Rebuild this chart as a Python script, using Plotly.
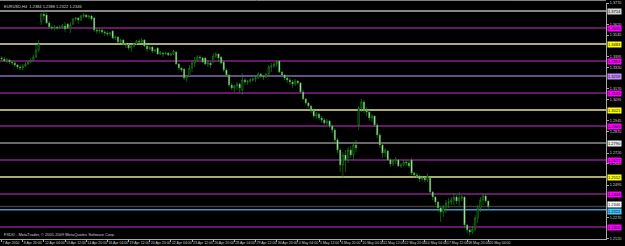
import plotly.graph_objects as go

# ---------------- data (EURUSD, H4) ----------------
opens = [
    1.3385, 1.3378, 1.3364, 1.3371, 1.3357, 1.3350, 1.3336, 1.3322, 1.3315, 1.3329,
    1.3343, 1.3357, 1.3371, 1.3392, 1.3441, 1.3637, 1.3693, 1.3686, 1.3630, 1.3602,
    1.3595, 1.3602, 1.3595, 1.3602, 1.3609, 1.3623, 1.3588, 1.3623, 1.3658, 1.3665,
    1.3651, 1.3679, 1.3686, 1.3672, 1.3679, 1.3665, 1.3581, 1.3574, 1.3581, 1.3567,
    1.3560, 1.3553, 1.3574, 1.3525, 1.3532, 1.3497, 1.3511, 1.3483, 1.3476, 1.3455,
    1.3469, 1.3483, 1.3504, 1.3497, 1.3511, 1.3469, 1.3448, 1.3462, 1.3434, 1.3455,
    1.3413, 1.3420, 1.3413, 1.3420, 1.3406, 1.3413, 1.3427, 1.3343, 1.3315, 1.3308,
    1.3245, 1.3259, 1.3315, 1.3350, 1.3371, 1.3392, 1.3385, 1.3385, 1.3343, 1.3350,
    1.3357, 1.3399, 1.3413, 1.3392, 1.3357, 1.3301, 1.3266, 1.3196, 1.3175, 1.3189,
    1.3203, 1.3161, 1.3231, 1.3217, 1.3224, 1.3231, 1.3238, 1.3245, 1.3273, 1.3259,
    1.3252, 1.3273, 1.3322, 1.3329, 1.3343, 1.3364, 1.3287, 1.3266, 1.3245, 1.3231,
    1.3217, 1.3203, 1.3224, 1.3210, 1.3147, 1.3098, 1.3070, 1.3049, 1.3014, 1.2979,
    1.2993, 1.2965, 1.2951, 1.2930, 1.2944, 1.2909, 1.2881, 1.2811, 1.2741, 1.2636,
    1.2706, 1.2671, 1.2741, 1.2706, 1.2776, 1.2916, 1.3035, 1.3077, 1.3021, 1.3007,
    1.2965, 1.2979, 1.2916, 1.2846, 1.2776, 1.2720, 1.2734, 1.2671, 1.2643, 1.2664,
    1.2671, 1.2629, 1.2636, 1.2657, 1.2650, 1.2671, 1.2580, 1.2566, 1.2559, 1.2538,
    1.2545, 1.2531, 1.2545, 1.2447, 1.2412, 1.2377, 1.2335, 1.2307, 1.2342, 1.2370,
    1.2377, 1.2391, 1.2412, 1.2384, 1.2405, 1.2412, 1.2216, 1.2181, 1.2167, 1.2188,
    1.2265, 1.2335, 1.2391, 1.2419, 1.2384,
]
highs = [
    1.3399, 1.3392, 1.3385, 1.3378, 1.3371, 1.3364, 1.3343, 1.3336, 1.3343, 1.3357,
    1.3371, 1.3385, 1.3406, 1.3476, 1.3511, 1.3700, 1.3707, 1.3700, 1.3644, 1.3616,
    1.3616, 1.3609, 1.3616, 1.3623, 1.3637, 1.3630, 1.3637, 1.3665, 1.3672, 1.3672,
    1.3686, 1.3700, 1.3693, 1.3686, 1.3686, 1.3672, 1.3595, 1.3588, 1.3588, 1.3581,
    1.3574, 1.3567, 1.3581, 1.3539, 1.3539, 1.3518, 1.3518, 1.3490, 1.3483, 1.3476,
    1.3490, 1.3511, 1.3518, 1.3525, 1.3518, 1.3476, 1.3469, 1.3469, 1.3448, 1.3462,
    1.3434, 1.3427, 1.3427, 1.3427, 1.3420, 1.3441, 1.3434, 1.3350, 1.3322, 1.3315,
    1.3266, 1.3336, 1.3371, 1.3392, 1.3406, 1.3406, 1.3392, 1.3392, 1.3371, 1.3357,
    1.3420, 1.3427, 1.3420, 1.3399, 1.3371, 1.3315, 1.3273, 1.3210, 1.3196, 1.3217,
    1.3210, 1.3280, 1.3245, 1.3231, 1.3245, 1.3245, 1.3252, 1.3287, 1.3280, 1.3266,
    1.3280, 1.3336, 1.3350, 1.3357, 1.3371, 1.3371, 1.3294, 1.3273, 1.3252, 1.3245,
    1.3231, 1.3238, 1.3231, 1.3217, 1.3161, 1.3105, 1.3077, 1.3056, 1.3021, 1.3007,
    1.3000, 1.2979, 1.2965, 1.2958, 1.2951, 1.2923, 1.2895, 1.2825, 1.2755, 1.2727,
    1.2741, 1.2762, 1.2769, 1.2797, 1.2811, 1.3049, 1.3098, 1.3091, 1.3042, 1.3021,
    1.2993, 1.2986, 1.2930, 1.2860, 1.2790, 1.2755, 1.2741, 1.2685, 1.2671, 1.2692,
    1.2678, 1.2650, 1.2671, 1.2671, 1.2664, 1.2685, 1.2587, 1.2580, 1.2566, 1.2559,
    1.2552, 1.2580, 1.2552, 1.2454, 1.2419, 1.2384, 1.2349, 1.2356, 1.2391, 1.2405,
    1.2412, 1.2440, 1.2426, 1.2447, 1.2426, 1.2419, 1.2223, 1.2195, 1.2209, 1.2286,
    1.2356, 1.2412, 1.2440, 1.2433, 1.2388,
]
lows = [
    1.3364, 1.3357, 1.3350, 1.3343, 1.3336, 1.3322, 1.3308, 1.3301, 1.3301, 1.3322,
    1.3336, 1.3350, 1.3364, 1.3385, 1.3427, 1.3616, 1.3651, 1.3623, 1.3595, 1.3581,
    1.3581, 1.3581, 1.3588, 1.3588, 1.3567, 1.3588, 1.3560, 1.3616, 1.3644, 1.3623,
    1.3644, 1.3665, 1.3665, 1.3658, 1.3644, 1.3567, 1.3553, 1.3560, 1.3553, 1.3539,
    1.3539, 1.3539, 1.3518, 1.3511, 1.3490, 1.3490, 1.3476, 1.3455, 1.3441, 1.3427,
    1.3462, 1.3476, 1.3483, 1.3490, 1.3462, 1.3427, 1.3441, 1.3420, 1.3427, 1.3406,
    1.3406, 1.3392, 1.3406, 1.3399, 1.3399, 1.3406, 1.3336, 1.3301, 1.3287, 1.3231,
    1.3217, 1.3252, 1.3287, 1.3322, 1.3357, 1.3371, 1.3350, 1.3336, 1.3322, 1.3315,
    1.3350, 1.3385, 1.3357, 1.3343, 1.3287, 1.3252, 1.3182, 1.3161, 1.3147, 1.3161,
    1.3140, 1.3126, 1.3196, 1.3196, 1.3210, 1.3217, 1.3217, 1.3238, 1.3245, 1.3231,
    1.3245, 1.3266, 1.3287, 1.3315, 1.3322, 1.3280, 1.3252, 1.3231, 1.3210, 1.3196,
    1.3175, 1.3189, 1.3196, 1.3140, 1.3091, 1.3056, 1.3035, 1.3000, 1.2965, 1.2958,
    1.2951, 1.2930, 1.2916, 1.2916, 1.2895, 1.2860, 1.2790, 1.2720, 1.2587, 1.2545,
    1.2587, 1.2650, 1.2685, 1.2671, 1.2727, 1.2881, 1.3007, 1.3000, 1.2979, 1.2944,
    1.2937, 1.2902, 1.2825, 1.2755, 1.2685, 1.2692, 1.2664, 1.2622, 1.2629, 1.2643,
    1.2622, 1.2615, 1.2629, 1.2629, 1.2615, 1.2566, 1.2552, 1.2545, 1.2517, 1.2524,
    1.2517, 1.2517, 1.2440, 1.2391, 1.2356, 1.2307, 1.2237, 1.2272, 1.2300, 1.2335,
    1.2356, 1.2356, 1.2363, 1.2356, 1.2384, 1.2195, 1.2160, 1.2143, 1.2153, 1.2174,
    1.2230, 1.2307, 1.2356, 1.2370, 1.2322,
]
closes = [
    1.3378, 1.3364, 1.3371, 1.3357, 1.3350, 1.3336, 1.3322, 1.3315, 1.3329, 1.3343,
    1.3357, 1.3371, 1.3392, 1.3441, 1.3483, 1.3693, 1.3679, 1.3630, 1.3602, 1.3595,
    1.3602, 1.3595, 1.3602, 1.3609, 1.3588, 1.3595, 1.3616, 1.3658, 1.3665, 1.3651,
    1.3679, 1.3686, 1.3672, 1.3679, 1.3658, 1.3581, 1.3574, 1.3581, 1.3567, 1.3560,
    1.3553, 1.3560, 1.3525, 1.3532, 1.3497, 1.3511, 1.3483, 1.3476, 1.3455, 1.3469,
    1.3483, 1.3504, 1.3497, 1.3511, 1.3469, 1.3448, 1.3462, 1.3434, 1.3441, 1.3413,
    1.3427, 1.3413, 1.3420, 1.3406, 1.3413, 1.3434, 1.3343, 1.3315, 1.3301, 1.3245,
    1.3259, 1.3315, 1.3350, 1.3371, 1.3392, 1.3385, 1.3357, 1.3343, 1.3350, 1.3336,
    1.3399, 1.3413, 1.3385, 1.3350, 1.3301, 1.3266, 1.3196, 1.3175, 1.3189, 1.3203,
    1.3175, 1.3231, 1.3217, 1.3224, 1.3231, 1.3238, 1.3245, 1.3273, 1.3259, 1.3252,
    1.3273, 1.3322, 1.3329, 1.3343, 1.3357, 1.3287, 1.3266, 1.3245, 1.3231, 1.3217,
    1.3203, 1.3224, 1.3210, 1.3147, 1.3098, 1.3070, 1.3049, 1.3014, 1.2979, 1.2993,
    1.2965, 1.2951, 1.2930, 1.2944, 1.2909, 1.2881, 1.2811, 1.2741, 1.2636, 1.2706,
    1.2671, 1.2741, 1.2706, 1.2776, 1.2755, 1.3035, 1.3077, 1.3021, 1.3007, 1.2965,
    1.2979, 1.2916, 1.2846, 1.2776, 1.2720, 1.2741, 1.2671, 1.2643, 1.2664, 1.2678,
    1.2629, 1.2636, 1.2657, 1.2650, 1.2629, 1.2580, 1.2566, 1.2559, 1.2538, 1.2545,
    1.2531, 1.2559, 1.2447, 1.2412, 1.2377, 1.2335, 1.2307, 1.2342, 1.2370, 1.2377,
    1.2391, 1.2412, 1.2384, 1.2405, 1.2412, 1.2216, 1.2181, 1.2167, 1.2188, 1.2265,
    1.2335, 1.2391, 1.2419, 1.2384, 1.2346,
]

time_labels = [
    "7 Apr 2010", "8 Apr 20:00", "12 Apr 04:00", "13 Apr 12:00", "14 Apr 20:00",
    "16 Apr 04:00", "19 Apr 12:00", "20 Apr 20:00", "22 Apr 04:00", "23 Apr 12:00",
    "26 Apr 20:00", "28 Apr 04:00", "29 Apr 12:00", "30 Apr 20:00", "4 May 04:00",
    "5 May 12:00", "6 May 20:00", "10 May 04:00", "11 May 12:00", "12 May 20:00",
    "14 May 04:00", "17 May 12:00", "18 May 20:00", "20 May 04:00",
]
time_label_bars = [0, 8, 16, 24, 32, 40, 48, 56, 64, 72, 80, 88, 96, 104, 112,
                   120, 128, 136, 144, 152, 160, 168, 176, 184]

# price-scale labels that are visible (the others sit under the level boxes)
price_ticks = [1.2120, 1.2270, 1.2495, 1.2645, 1.2720, 1.2870, 1.2945,
               1.3095, 1.3170, 1.3320, 1.3395, 1.3545, 1.3620, 1.3770]

level_prices = [1.3714, 1.3595, 1.3483, 1.3364, 1.3259, 1.3140, 1.3021, 1.2909,
                1.2790, 1.2671, 1.2552, 1.2433, 1.2346, 1.2322, 1.2202]
level_line_colors = ["#b4b4b4", "#86218a", "#e4e49a", "#86218a", "#8a6ab0",
                     "#86218a", "#e4e49a", "#86218a", "#8c8c8c", "#86218a",
                     "#e4e49a", "#86218a", "#3c3c3c", "#3a9ccc", "#86218a"]
level_label_colors = ["#d8d8d8", "#ff00ff", "#ffff00", "#ff00ff", "#c68cff",
                      "#ff00ff", "#ffff00", "#ff00ff", "#e8e8e8", "#ff00ff",
                      "#ffff00", "#ff00ff", "#ffffff", "#44c8ff", "#ff00ff"]
level_label_shift = [0, 0, 0, 0, 0, 0, 0, 0, 0, 0, 0, 0, 2, -2, 0]

chart_title = "EURUSD,H4  1.2384 1.2388 1.2322 1.2346"
footer_text = "FXDD - MetaTrader, \u00a9 2001-2009 MetaQuotes Software Corp."

# ---------------- figure ----------------
bars = list(range(len(opens)))
FONT = "Liberation Sans"
AXIS_COL = "#a8a8a8"
TEXT_COL = "#d0d0d0"
CANDLE_COL = "#1f961f"

fig = go.Figure()

for price, col in zip(level_prices, level_line_colors):
    fig.add_hline(y=price, line=dict(color=col, width=1.5), layer="below")

fig.add_trace(go.Candlestick(
    x=bars, open=opens, high=highs, low=lows, close=closes,
    increasing=dict(line=dict(color=CANDLE_COL, width=0.6), fillcolor="#000000"),
    decreasing=dict(line=dict(color=CANDLE_COL, width=0.6), fillcolor="#ffffff"),
    whiskerwidth=0, hoverinfo="skip", showlegend=False,
))

for price, col, sh in zip(level_prices, level_label_colors, level_label_shift):
    fig.add_annotation(
        x=1, xref="paper", y=price, yref="y", xanchor="left", yanchor="middle",
        xshift=1, yshift=sh, text=f"{price:.4f}", showarrow=False, bgcolor=col,
        borderpad=0, font=dict(family=FONT, size=4, color="#000000"),
    )

fig.add_annotation(x=0, xref="paper", y=1, yref="paper", xanchor="left",
                   yanchor="top", xshift=2, yshift=1, text=chart_title,
                   showarrow=False, font=dict(family=FONT, size=4, color=TEXT_COL))
fig.add_annotation(x=0, xref="paper", y=0, yref="paper", xanchor="left",
                   yanchor="bottom", xshift=2, yshift=0, text=footer_text,
                   showarrow=False, font=dict(family=FONT, size=4, color=TEXT_COL))

# top border
fig.add_shape(type="line", xref="paper", yref="paper", x0=0, x1=1,
              y0=1.011, y1=1.011, line=dict(color="#909090", width=1))

fig.update_layout(
    width=625, height=246,
    margin=dict(l=0, r=19, t=3, b=7),
    paper_bgcolor="#000000", plot_bgcolor="#000000",
    showlegend=False,
    xaxis=dict(
        range=[-0.6, 228.5], rangeslider=dict(visible=False),
        tickmode="array", tickvals=time_label_bars, ticktext=time_labels,
        tickangle=0,
        tickfont=dict(family=FONT, size=3.5, color=TEXT_COL),
        ticks="outside", ticklen=2, tickcolor=AXIS_COL,
        ticklabelposition="outside right",
        showline=True, linecolor=AXIS_COL, linewidth=1,
        showgrid=False, zeroline=False,
    ),
    yaxis=dict(
        side="right", range=[1.2118, 1.3770],
        tickmode="array", tickvals=price_ticks,
        ticktext=[f"{p:.4f}" for p in price_ticks],
        tickfont=dict(family=FONT, size=3.8, color=TEXT_COL),
        ticks="outside", ticklen=2, tickcolor=AXIS_COL,
        showline=True, linecolor=AXIS_COL, linewidth=1,
        showgrid=False, zeroline=False,
    ),
)

fig.write_html("out.html")
